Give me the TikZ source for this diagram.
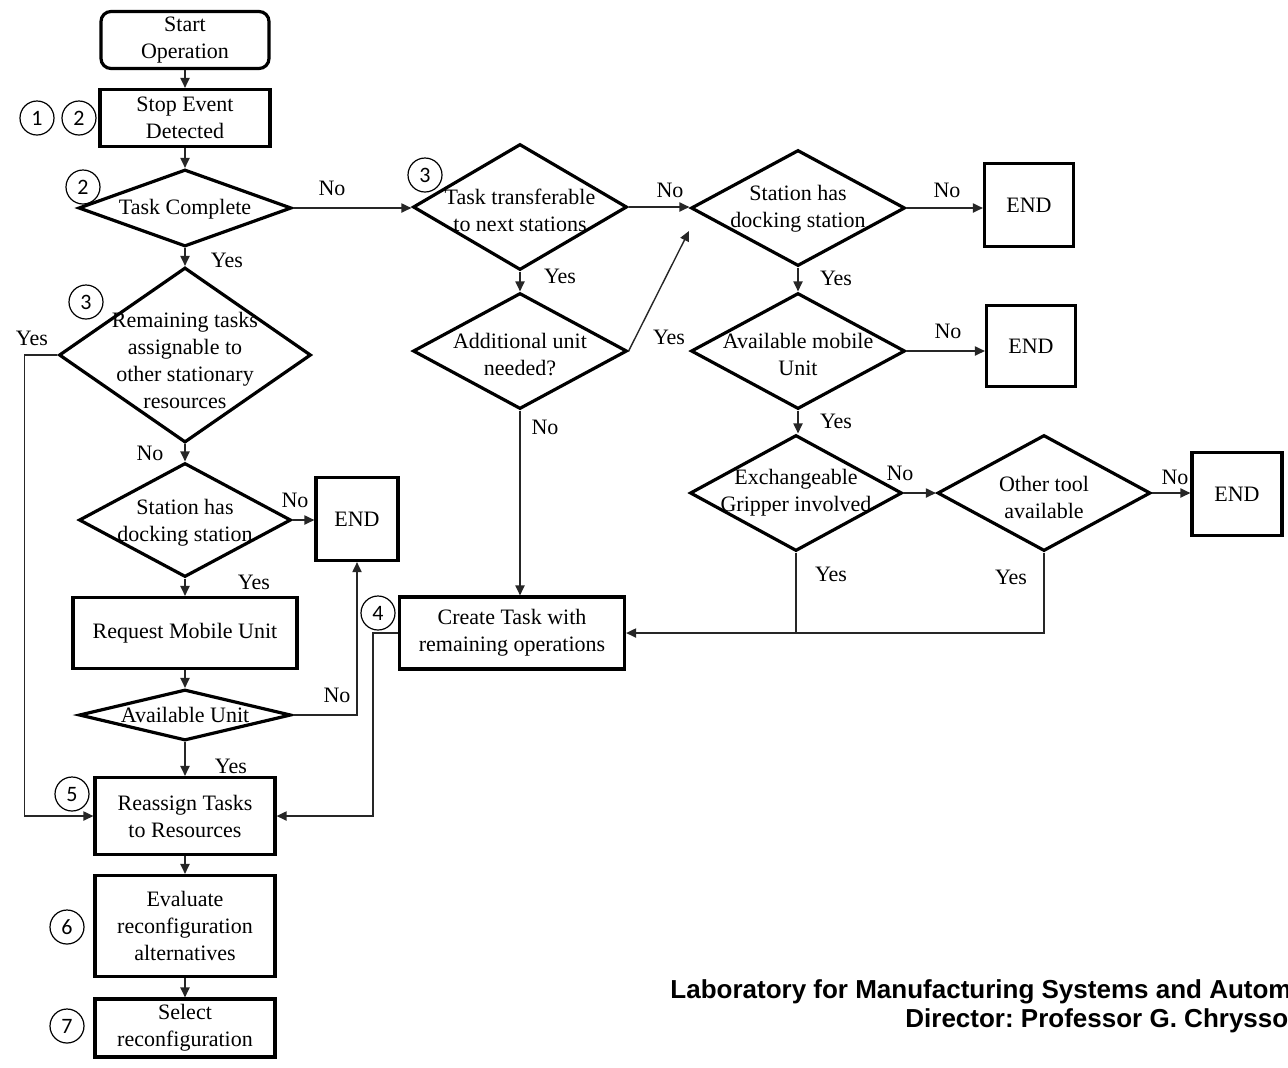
\documentclass[tikz,border=0pt]{standalone}
\usepackage{fontspec}
\setmainfont{Liberation Serif}
\newfontfamily\numfont{Carlito}
\newfontfamily\labfont{Liberation Sans}
\usetikzlibrary{shapes.geometric,arrows.meta}
\frenchspacing
\newcommand{\dtext}[2]{\raisebox{#1}[0pt][0pt]{\makebox[0pt]{\begin{tabular}{@{}c@{}}#2\end{tabular}}}}

\begin{document}
\begin{tikzpicture}
[x=0.5pt,y=-0.5pt,
  procBox/.style={shape=rectangle,draw,line width=1.6pt,align=center,inner sep=0pt},%
  decision/.style={shape=diamond,draw,line width=1.6pt,inner sep=0pt},%
  stepMark/.style={shape=circle,draw,line width=0.6pt,minimum size=17pt,inner sep=0pt,
    font=\numfont\fontsize{11}{11}\selectfont},%
  answer/.style={inner sep=0pt},%
  footer/.style={inner sep=0pt,font=\labfont\bfseries\fontsize{13}{14.5}\selectfont},%
  lineDecorate/.style={draw=black!85,line width=0.7pt,-{Triangle[length=5pt,width=4.6pt]}},%
  font=\fontsize{11}{13.5}\selectfont]
\useasboundingbox (0,0) rectangle (1288,1067);
%% boxes
\node (start) at (185,40) [procBox,rounded corners=5pt,minimum width=84pt,minimum height=28.5pt]
  {Start\\Operation};
\foreach \nodename/\x/\y/\w/\h/\txt in {
  stop/185/118/85/28.5/{Stop Event\\Detected},
  req/185/633/112/35.5/{Request Mobile Unit},
  rea/185/816/90/38.5/{Reassign Tasks\\to Resources},
  eval/185/926/90/50.5/{Evaluate\\reconfiguration\\alternatives},
  sel/185/1028/90/29/{Select\\reconfiguration},
  endl/357/519/41/41.5/{END},
  create/512/633/112.5/36/{Create Task with\\remaining operations},
  endr1/1029/205/44.5/41.5/{END},
  endr2/1031/346/44.5/40.5/{END},
  endr3/1237/494/45/41.5/{END}}
{
  \node (\nodename) at (\x,\y) [procBox,minimum width=\w pt,minimum height=\h pt] {\txt};
}
%% decisions
\foreach \nodename/\x/\y/\w/\h/\r/\txt in {
  tc/185/208/106.5/38.5/-3.5/{Task Complete},
  rem/185/355/126/87.5/-6.5/{Remaining tasks\\assignable to\\other stationary\\resources},
  sdl/185/520/106/57/-4.25/{Station has\\docking station},
  au/185/715/106/25.5/-3.75/{Available Unit},
  tt/520/207/107/63/-5.75/{Task transferable\\to next stations},
  add/520/351/107/58/-5.75/{Additional unit\\needed?},
  sdr/798/208/107/58/-3/{Station has\\docking station},
  amu/798/351/107/58/-5.75/{Available mobile\\Unit},
  exg/796/493/106/58/-2.5/{Exchangeable\\Gripper involved},
  oth/1044/493/106.5/58/-6.25/{Other tool\\available}}
{
  \node (\nodename) at (\x,\y) [decision,minimum width=\w pt,minimum height=\h pt] {\dtext{\r pt}{\txt}};
}
%% step numbers
\foreach \nodename/\x/\y/\num in {
  m1/37/118/1, m2a/79/118/2, m2b/83/187/2, m3a/86/302/3, m3b/425/175/3,
  m4/378/613/4, m5/72/794/5, m6/67/927/6, m7/67/1026/7}
{
  \node (\nodename) at (\x,\y) [stepMark] {\num};
}
%% answers
\foreach \nodename/\x/\y/\txt in {
  a1/332/188/No, a2/227/260/Yes, a3/32/338/Yes, a4/150/453/No, a5/295/500/No,
  a6/254/582/Yes, a7/337/695/No, a8/231/766/Yes, a9/560/276/Yes, a10/670/190/No,
  a11/669/337/Yes, a12/545/427/No, a13/947/190/No, a14/836/278/Yes, a15/948/331/No,
  a16/836/421/Yes, a17/900/473/No, a18/1175/477/No, a19/831/574/Yes, a20/1011/577/Yes}
{
  \node (\nodename) at (\x,\y) [answer] {\txt};
}
\coordinate (addtip) at (689,231);
%% connectors
\path
\foreach \startnode/\endnode in {
  start/stop, stop/tc, tc/rem, rem/sdl, sdl/req, req/au, au/rea, rea/eval,
  eval/sel, tt/add, add/create, sdr/amu, amu/exg}
{
  (\startnode.south) edge[lineDecorate] (\startnode.south |- \endnode.north)
};
\path
\foreach \startnode/\endnode in {
  tc/tt, sdl/endl, tt/sdr, sdr/endr1, amu/endr2, exg/oth, oth/endr3}
{
  (\startnode.east) edge[lineDecorate] (\startnode.east -| \endnode.west)
};
\draw[lineDecorate] (add.east) -- (addtip);
\draw[lineDecorate] (rem.west) -- ++(-33,0) |- (rea.west);
\draw[lineDecorate] (au.east) -| (endl.south);
\draw[lineDecorate] (create.west) -- ++(-25,0) |- (rea.east);
\draw[lineDecorate] (exg.south) |- (create.east);
\draw[lineDecorate,-] (oth.south) |- (exg.south |- create.east);
%% footer
\begin{scope}
\clip (0,0) rectangle (1288,1067);
\node (lab) at (670,998) [footer,anchor=base west] {Laboratory for Manufacturing Systems and Automation};
\node (dir) at (905,1027) [footer,anchor=base west] {Director: Professor G. Chryssolouris};
\end{scope}
\end{tikzpicture}
\end{document}
